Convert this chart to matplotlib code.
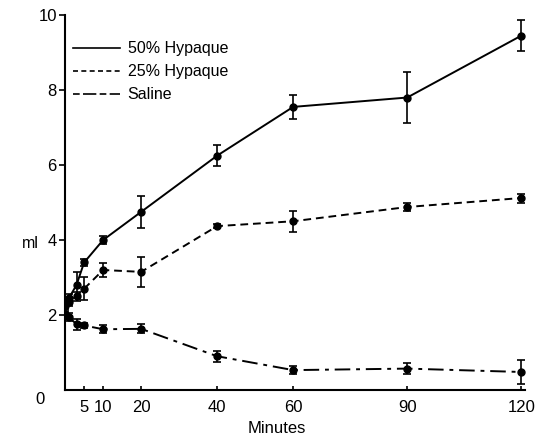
import matplotlib.pyplot as plt

# ==========================================
# Data
# ==========================================

minutes = [0, 1, 3, 5, 10, 20, 40, 60, 90, 120]

hyp50 = [2.3, 2.45, 2.8, 3.4, 4.0, 4.75, 6.25, 7.55, 7.8, 9.45]
hyp50_err = [0.1, 0.1, 0.35, 0.1, 0.12, 0.42, 0.28, 0.33, 0.68, 0.42]

hyp25 = [2.25, 2.35, 2.5, 2.7, 3.2, 3.15, 4.37, 4.5, 4.88, 5.12]
hyp25_err = [0.1, 0.1, 0.12, 0.3, 0.18, 0.4, 0.05, 0.28, 0.1, 0.12]

saline = [2.02, 1.95, 1.75, 1.72, 1.62, 1.63, 0.9, 0.53, 0.57, 0.48]
saline_err = [0.08, 0.1, 0.15, 0.06, 0.1, 0.12, 0.15, 0.1, 0.15, 0.32]

x_ticks = [5, 10, 20, 40, 60, 90, 120]
y_ticks = [2, 4, 6, 8, 10]

# ==========================================
# Plot
# ==========================================

plt.rcParams["font.family"] = ["Liberation Sans", "DejaVu Sans"]

fig = plt.figure(figsize=(5.38, 4.37), dpi=100)
ax = fig.add_axes([0.121, 0.1076, 0.855, 0.858])

common = dict(
    color="black",
    marker="o",
    markersize=5,
    linewidth=1.4,
    elinewidth=1.2,
    capsize=3,
    capthick=1.2,
)

ax.errorbar(minutes, hyp50, yerr=hyp50_err, linestyle="-", **common)
ax.errorbar(minutes, hyp25, yerr=hyp25_err, linestyle=(0, (4, 2.5)), **common)
ax.errorbar(minutes, saline, yerr=saline_err, linestyle=(0, (8, 3, 2, 3)), **common)

# legend handles without markers
h1, = ax.plot([], [], color="black", linewidth=1.2, linestyle="-")
h2, = ax.plot([], [], color="black", linewidth=1.2, linestyle=(0, (3, 2)))
h3, = ax.plot([], [], color="black", linewidth=1.2, linestyle=(0, (4, 2, 8, 2)))
ax.legend(
    [h1, h2, h3],
    ["50% Hypaque", "25% Hypaque", "Saline"],
    loc="upper left",
    bbox_to_anchor=(-0.015, 0.968),
    frameon=False,
    handlelength=3.0,
    handletextpad=0.45,
    labelspacing=0.5,
    fontsize=11.5,
)

ax.set_xlim(0, 121)
ax.set_ylim(0, 10)
ax.set_xticks(x_ticks)
ax.set_yticks(y_ticks)
ax.set_yticklabels([str(v) for v in y_ticks])

ax.spines["top"].set_visible(False)
ax.spines["right"].set_visible(False)
ax.spines["left"].set_linewidth(1.5)
ax.spines["bottom"].set_linewidth(1.5)

ax.tick_params(axis="y", direction="out", length=4, width=1.2, labelsize=12, pad=2)
ax.tick_params(axis="x", direction="in", length=3, width=1.2, labelsize=12, pad=7)

ax.text(-0.045, -0.005, "0", transform=ax.transAxes, fontsize=12,
        ha="right", va="top")

ax.set_ylabel("ml", fontsize=11.5, rotation=0, va="center")
ax.yaxis.set_label_coords(-0.075, 0.39)
ax.set_xlabel("Minutes", fontsize=12)
ax.xaxis.set_label_coords(0.46, -0.083)

plt.savefig("out.png", dpi=100)
